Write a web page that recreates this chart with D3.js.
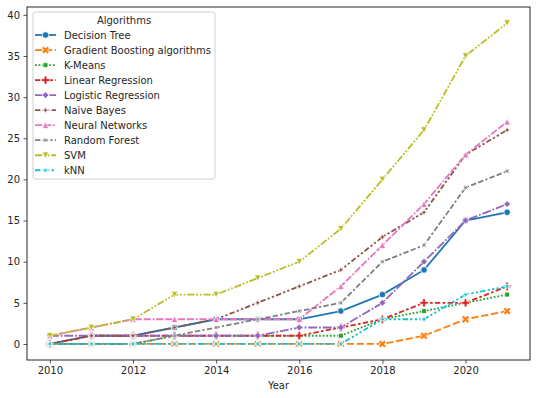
<!DOCTYPE html>
<html>
<head>
<meta charset="utf-8">
<script src="https://cdn.jsdelivr.net/npm/d3@7"></script>
<style>
  body { margin: 0; background: #fff; }
  svg text { font-family: "DejaVu Sans", sans-serif; fill: #262626; }
</style>
</head>
<body>
<svg id="chart" width="536" height="398"></svg>
<script>
var years = [2010, 2011, 2012, 2013, 2014, 2015, 2016, 2017, 2018, 2019, 2020, 2021];
var algorithms = ['Decision Tree', 'Gradient Boosting algorithms', 'K-Means', 'Linear Regression',
    'Logistic Regression', 'Naive Bayes', 'Neural Networks', 'Random Forest', 'SVM', 'kNN'];

var decisionTree = [0, 1, 1, 2, 3, 3, 3, 4, 6, 9, 15, 16];
var gradientBoosting = [0, 0, 0, 0, 0, 0, 0, 0, 0, 1, 3, 4];
var kMeans = [0, 0, 0, 1, 1, 1, 1, 1, 3, 4, 5, 6];
var linearRegression = [0, 1, 1, 1, 1, 1, 1, 2, 3, 5, 5, 7];
var logisticRegression = [1, 1, 1, 1, 1, 1, 2, 2, 5, 10, 15, 17];
var naiveBayes = [0, 1, 1, 2, 3, 5, 7, 9, 13, 16, 23, 26];
var neuralNetworks = [1, 2, 3, 3, 3, 3, 3, 7, 12, 17, 23, 27];
var randomForest = [0, 0, 0, 1, 2, 3, 4, 5, 10, 12, 19, 21];
var svmValues = [1, 2, 3, 6, 6, 8, 10, 14, 20, 26, 35, 39];
var knn = [0, 0, 0, 0, 0, 0, 0, 0, 3, 3, 6, 7];

var yTicks = [0, 5, 10, 15, 20, 25, 30, 35, 40];
var xTicks = [2010, 2012, 2014, 2016, 2018, 2020];

var seriesValues = [decisionTree, gradientBoosting, kMeans, linearRegression, logisticRegression,
    naiveBayes, neuralNetworks, randomForest, svmValues, knn];

var colors = ['#1f77b4', '#ff7f0e', '#2ca02c', '#d62728', '#9467bd',
    '#8c564b', '#e377c2', '#7f7f7f', '#bcbd22', '#17becf'];

// seaborn style dashes (in units of line width)
var dashes = [null, [4, 1.5], [1, 1], [3, 1.25, 1.5, 1.25], [5, 1, 1, 1],
    [3, 1.25, 1.25, 1.25, 1.25, 1.25], [4, 1, 4, 1, 1, 1], [3, 1.25, 3, 1.25, 1.25, 1.25],
    [4, 1, 1, 1, 1, 1], [3, 1.25, 1.25, 1.25, 1.25, 1.25, 1.25, 1.25]];

var markers = ['o', 'X', 'square', 'P', 'diamond', 'star4', '^', 'star4x', 'v', 'star6'];

var lw = 1.8;
var ms = 6.5;

var data = algorithms.map(function (name, i) {
    return {
        name: name,
        color: colors[i],
        dash: dashes[i],
        marker: markers[i],
        values: years.map(function (y, j) { return { year: y, value: seriesValues[i][j] }; })
    };
});

var svg = d3.select('#chart');
var margin = { left: 27, right: 530, top: 7, bottom: 360 };

var x = d3.scaleLinear().domain([2009.45, 2021.55]).range([margin.left, margin.right]);
var y = d3.scaleLinear().domain([-1.95, 40.95]).range([margin.bottom, margin.top]);

function polygon(n, r, rot) {
    var pts = [];
    for (var k = 0; k < n; k++) {
        var a = (rot + k * 360 / n) * Math.PI / 180;
        pts.push([r * Math.sin(a), -r * Math.cos(a)]);
    }
    return 'M' + pts.join('L') + 'Z';
}

function star(n, r, rot) {
    var pts = [];
    var inner = r * 0.381966;
    for (var k = 0; k < 2 * n; k++) {
        var a = (rot + k * 180 / n) * Math.PI / 180;
        var rr = k % 2 === 0 ? r : inner;
        pts.push([rr * Math.sin(a), -rr * Math.cos(a)]);
    }
    return 'M' + pts.join('L') + 'Z';
}

function markerPath(m) {
    var r = ms / 2;
    if (m === 'o') return d3.symbol().type(d3.symbolCircle).size(Math.PI * r * r)();
    if (m === 'square') return polygon(4, r * 1.05, 45);
    if (m === 'diamond') return polygon(4, r * 1.05, 0);
    if (m === '^') return 'M0,' + (-r) + 'L' + r + ',' + r + 'L' + (-r) + ',' + r + 'Z';
    if (m === 'v') return 'M0,' + r + 'L' + r + ',' + (-r) + 'L' + (-r) + ',' + (-r) + 'Z';
    if (m === 'star4') return star(4, r * 1.1, 0);
    if (m === 'star4x') return star(4, r * 1.1, 45);
    if (m === 'star6') return star(6, r * 1.1, 30);
    if (m === 'P') return d3.symbol().type(d3.symbolCross).size(ms * ms * 0.9)();
    if (m === 'X') return d3.symbol().type(d3.symbolCross).size(ms * ms * 0.9)();
    return '';
}

function markerRotate(m) {
    return m === 'X' ? 45 : 0;
}

// axes
var yAxis = svg.append('g')
    .attr('transform', 'translate(' + margin.left + ',0)')
    .call(d3.axisLeft(y).tickValues(yTicks).tickSize(3.5).tickPadding(3.5));
var xAxis = svg.append('g')
    .attr('transform', 'translate(0,' + margin.bottom + ')')
    .call(d3.axisBottom(x).tickValues(xTicks).tickFormat(d3.format('d')).tickSize(3.5).tickPadding(3.5));

[xAxis, yAxis].forEach(function (g) {
    g.select('.domain').remove();
    g.selectAll('.tick line').attr('stroke', '#262626').attr('stroke-width', 0.8);
    g.selectAll('.tick text').attr('font-size', 10).attr('fill', '#262626')
        .attr('font-family', 'DejaVu Sans, sans-serif');
});

svg.append('rect')
    .attr('x', margin.left).attr('y', margin.top)
    .attr('width', margin.right - margin.left).attr('height', margin.bottom - margin.top)
    .attr('fill', 'none').attr('stroke', '#262626').attr('stroke-width', 1);

svg.append('text')
    .attr('x', (margin.left + margin.right) / 2)
    .attr('y', 389)
    .attr('text-anchor', 'middle')
    .attr('font-size', 10)
    .text('Year');

// lines
var line = d3.line()
    .x(function (d) { return x(d.year); })
    .y(function (d) { return y(d.value); });

var plot = svg.append('g');

var groups = plot.selectAll('g.series').data(data).enter().append('g').attr('class', 'series');

groups.append('path')
    .attr('d', function (d) { return line(d.values); })
    .attr('fill', 'none')
    .attr('stroke', function (d) { return d.color; })
    .attr('stroke-width', lw)
    .attr('stroke-dasharray', function (d) {
        return d.dash ? d.dash.map(function (v) { return v * lw; }).join(',') : null;
    });

groups.selectAll('path.mark')
    .data(function (d) { return d.values.map(function (v) { return { v: v, s: d }; }); })
    .enter()
    .append('path')
    .attr('class', 'mark')
    .attr('d', function (d) { return markerPath(d.s.marker); })
    .attr('transform', function (d) {
        return 'translate(' + x(d.v.year) + ',' + y(d.v.value) + ') rotate(' + markerRotate(d.s.marker) + ')';
    })
    .attr('fill', function (d) { return d.s.color; })
    .attr('stroke', '#fff')
    .attr('stroke-width', 0.75);

// legend
var legend = svg.append('g');
legend.append('rect')
    .attr('x', 33).attr('y', 12).attr('width', 182).attr('height', 167)
    .attr('rx', 2.5)
    .attr('fill', '#fff').attr('fill-opacity', 0.8)
    .attr('stroke', '#d0d0d0').attr('stroke-width', 1);

legend.append('text')
    .attr('x', 124).attr('y', 24)
    .attr('text-anchor', 'middle')
    .attr('font-size', 10)
    .text('Algorithms');

var items = legend.selectAll('g.item').data(data).enter().append('g')
    .attr('class', 'item')
    .attr('transform', function (d, i) { return 'translate(0,' + (35 + i * 15.03) + ')'; });

items.append('line')
    .attr('x1', 35).attr('x2', 56).attr('y1', 0).attr('y2', 0)
    .attr('stroke', function (d) { return d.color; })
    .attr('stroke-width', lw)
    .attr('stroke-dasharray', function (d) {
        return d.dash ? d.dash.map(function (v) { return v * lw; }).join(',') : null;
    });

items.append('path')
    .attr('d', function (d) { return markerPath(d.marker); })
    .attr('transform', function (d) { return 'translate(45.5,0) rotate(' + markerRotate(d.marker) + ')'; })
    .attr('fill', function (d) { return d.color; })
    .attr('stroke', '#fff')
    .attr('stroke-width', 0.75);

items.append('text')
    .attr('x', 64).attr('y', 3.6)
    .attr('font-size', 10)
    .text(function (d) { return d.name; });
</script>
</body>
</html>
